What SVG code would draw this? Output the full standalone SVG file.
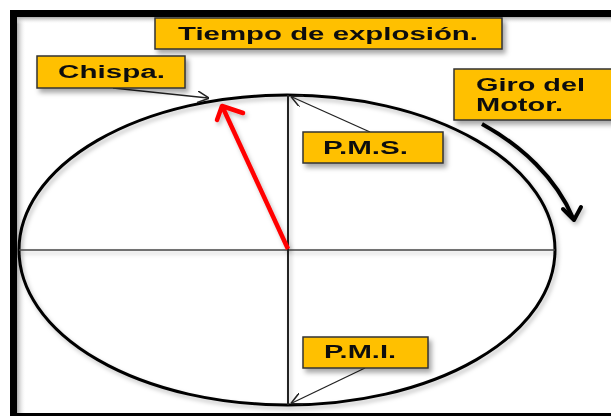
<svg xmlns="http://www.w3.org/2000/svg" width="611" height="416" viewBox="0 0 611 416">
<defs>
<filter id="sh" x="-20%" y="-20%" width="150%" height="160%">
<feDropShadow dx="3" dy="4" stdDeviation="2.5" flood-color="#000" flood-opacity="0.35"/>
</filter>
<filter id="sh2" x="-10%" y="-10%" width="120%" height="120%">
<feDropShadow dx="2" dy="3" stdDeviation="2" flood-color="#000" flood-opacity="0.25"/>
</filter>
<linearGradient id="lg" x1="0" x2="1" y1="0" y2="0">
<stop offset="0" stop-color="#aaa"/>
<stop offset="1" stop-color="#fff" stop-opacity="0"/>
</linearGradient>
<linearGradient id="tg" x1="0" x2="0" y1="0" y2="1">
<stop offset="0" stop-color="#aaa"/>
<stop offset="1" stop-color="#fff" stop-opacity="0"/>
</linearGradient>
<marker id="open" viewBox="0 0 10 10" refX="9" refY="5" markerWidth="12" markerHeight="12" markerUnits="userSpaceOnUse" orient="auto">
<path d="M0,0 L10,5 L0,10" fill="none" stroke="#222" stroke-width="1.3"/>
</marker>
</defs>
<style>
.box{fill:#FFC000;stroke:#333;stroke-width:1.5}
.lbl{font-family:"Liberation Sans",Arial,sans-serif;font-weight:bold;font-size:18px;fill:#111}
.lead{stroke:#222;stroke-width:1.3;fill:none}
</style>
<rect x="0" y="0" width="611" height="416" fill="#fff"/>
<rect x="17" y="17" width="9" height="396" fill="url(#lg)"/>
<rect x="17" y="17" width="594" height="7" fill="url(#tg)"/>
<rect x="10" y="10" width="7" height="406" fill="#000"/>
<rect x="10" y="10" width="601" height="7" fill="#000"/>
<rect x="10" y="413" width="601" height="3" fill="#000"/>

<g id="circle" filter="url(#sh2)">
<ellipse cx="287" cy="250" rx="268" ry="155" fill="none" stroke="#000" stroke-width="3"/>
<line x1="19" y1="250" x2="555" y2="250" stroke="#444" stroke-width="1.5"/>
<line x1="288" y1="95" x2="288" y2="405" stroke="#222" stroke-width="2"/>
</g>

<g id="connectors">
<line class="lead" x1="113" y1="88" x2="208" y2="98" marker-end="url(#open)"/>
<line class="lead" x1="370" y1="132" x2="292" y2="97" marker-end="url(#open)"/>
<line class="lead" x1="365" y1="368" x2="292" y2="403" marker-end="url(#open)"/>
<g id="spark-arrow" filter="url(#sh2)">
<line x1="288" y1="249" x2="223" y2="108" stroke="#f00" stroke-width="4.5"/>
<path d="M217,120 L222,106 L243,113" fill="none" stroke="#f00" stroke-width="4.5" stroke-linecap="round" stroke-linejoin="round"/>
</g>
<g id="rotation-arrow" filter="url(#sh2)">
<path d="M482,124 C522,146 556,178 573,218" fill="none" stroke="#000" stroke-width="4"/>
<path d="M563,209 L574,220 L581,207" fill="none" stroke="#000" stroke-width="4" stroke-linecap="round" stroke-linejoin="round"/>
</g>
</g>

<g id="tiempo" filter="url(#sh)">
<rect class="box" x="155" y="18" width="347" height="31"/>
<text class="lbl" x="178" y="40" textLength="300" lengthAdjust="spacingAndGlyphs">Tiempo de explosión.</text>
</g>
<g id="chispa" filter="url(#sh)">
<rect class="box" x="37" y="56" width="148" height="32"/>
<text class="lbl" x="58" y="78" textLength="107" lengthAdjust="spacingAndGlyphs">Chispa.</text>
</g>
<g id="giro" filter="url(#sh)">
<rect class="box" x="454" y="69" width="160" height="51"/>
<text class="lbl" x="476" y="91" textLength="109" lengthAdjust="spacingAndGlyphs">Giro del</text>
<text class="lbl" x="476" y="111" textLength="87" lengthAdjust="spacingAndGlyphs">Motor.</text>
</g>
<g id="pms" filter="url(#sh)">
<rect class="box" x="303" y="132" width="140" height="31"/>
<text class="lbl" x="323" y="154" textLength="85" lengthAdjust="spacingAndGlyphs">P.M.S.</text>
</g>
<g id="pmi" filter="url(#sh)">
<rect class="box" x="303" y="337" width="125" height="31"/>
<text class="lbl" x="324" y="358" textLength="72" lengthAdjust="spacingAndGlyphs">P.M.I.</text>
</g>
</svg>
